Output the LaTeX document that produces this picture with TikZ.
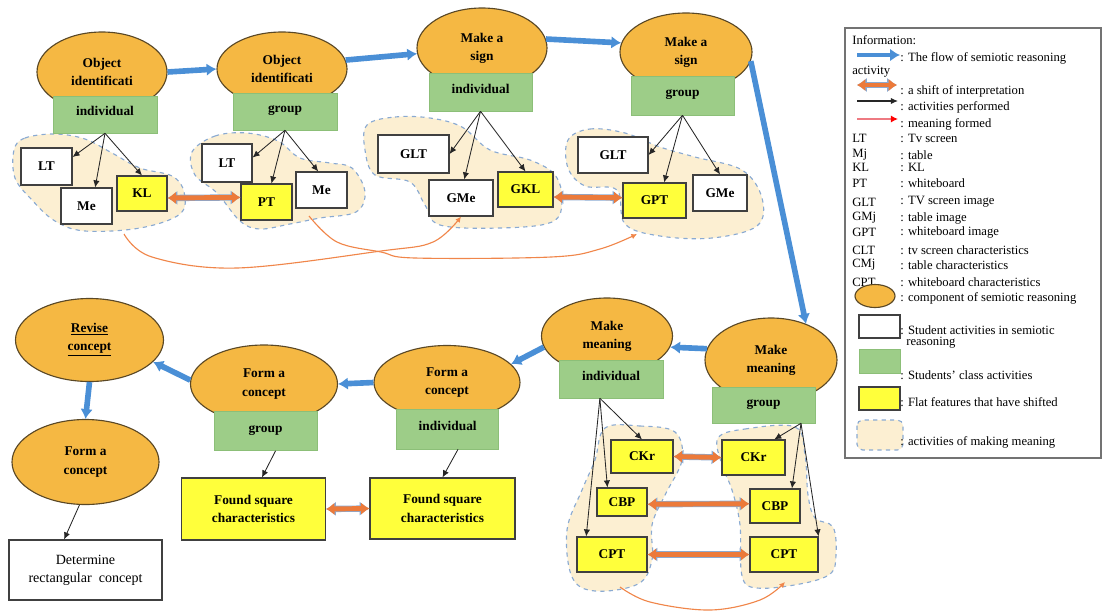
\documentclass[tikz,border=0pt]{standalone}
\usepackage{fontspec}
\setmainfont{Liberation Serif}
\usepackage{tikz}
\usetikzlibrary{arrows.meta,shapes}
\definecolor{compfill}{HTML}{F5B843}
\definecolor{compline}{HTML}{5A4826}
\definecolor{classgreen}{HTML}{9DCD88}
\definecolor{classline}{HTML}{8CBF78}
\definecolor{flatyellow}{HTML}{FFFF3B}
\definecolor{blobfill}{HTML}{FCEFD2}
\definecolor{blobline}{HTML}{8AAAD2}
\definecolor{flowblue}{HTML}{4A8FD6}
\definecolor{shiftorange}{HTML}{EC7A3A}
\definecolor{curveorange}{HTML}{F0864A}
\definecolor{legendred}{HTML}{EE7A82}
\tikzstyle{component}=[ellipse,draw=compline,fill=compfill,line width=0.8pt,inner sep=0pt,align=center,font=\fontsize{9.5}{13}\selectfont\bfseries]
\tikzstyle{classact}=[rectangle,draw=classline,fill=classgreen,inner sep=0pt,text height=7pt,text depth=5pt,font=\fontsize{9.5}{12}\selectfont\bfseries]
\tikzstyle{student}=[rectangle,draw=black!75,fill=white,line width=0.8pt,inner sep=0pt,align=center,font=\fontsize{9.5}{13}\selectfont\bfseries]
\tikzstyle{flat}=[student,fill=flatyellow]
\tikzstyle{blob}=[draw=blobline,fill=blobfill,dashed,line width=0.8pt]
\tikzstyle{flow}=[draw=flowblue,line width=4pt,-{Latex[length=7pt,width=9pt]}]
\tikzstyle{shiftarrow}=[draw=shiftorange,line width=3.5pt,{Latex[length=6pt,width=9pt]}-{Latex[length=6pt,width=9pt]},preaction={draw=blobline,line width=4.5pt,{Latex[length=7pt,width=10.5pt]}-{Latex[length=7pt,width=10.5pt]}}]
\tikzstyle{performed}=[draw=black!85,line width=0.6pt,-{Latex[length=5pt,width=4.5pt]}]
\tikzstyle{meaning}=[draw=curveorange,line width=0.8pt,-{Latex[length=4pt,width=4pt]}]
\tikzstyle{legendtext}=[anchor=west,inner sep=0pt,font=\fontsize{9}{10}\selectfont]
\begin{document}
\begin{tikzpicture}[x=0.025cm,y=-0.025cm]
\useasboundingbox (0,0) rectangle (1104,614);

% areas of making meaning
\filldraw[blob] plot[smooth cycle,tension=0.6] coordinates {(14,150) (25,138) (55,134) (85,139) (112,153) (140,168) (172,176) (184,192) (180,214) (140,228) (85,231) (55,221) (32,200) (15,178)};
\filldraw[blob] plot[smooth cycle,tension=0.6] coordinates {(192,152) (215,136) (247,133) (278,141) (300,158) (330,163) (352,168) (365,192) (356,212) (320,218) (290,224) (260,229) (240,221) (217,193) (195,175)};
\filldraw[blob] plot[smooth cycle,tension=0.6] coordinates {(367,125) (395,117) (430,118) (462,127) (490,150) (530,160) (555,175) (562,200) (552,222) (500,228) (440,225) (425,205) (410,182) (375,175) (365,150)};
\filldraw[blob] plot[smooth cycle,tension=0.6] coordinates {(568,140) (590,129) (625,133) (660,147) (695,157) (742,170) (762,198) (757,226) (712,238) (660,236) (625,224) (617,190) (585,186) (568,168)};
\filldraw[blob] plot[smooth cycle,tension=0.6] coordinates {(605,428) (640,426) (675,432) (682,460) (665,495) (652,525) (652,560) (638,584) (595,591) (572,577) (567,530) (582,490) (595,460)};
\filldraw[blob] plot[smooth cycle,tension=0.6] coordinates {(718,438) (745,429) (795,427) (805,455) (808,495) (815,518) (833,527) (836,555) (830,574) (800,584) (757,588) (742,576) (740,525) (732,490) (722,465)};

% components of semiotic reasoning
\foreach \pos/\name/\w/\h/\txt in {
  {(102,72)/oiI/130/80/{Object\\identificati}},
  {(282,69)/oiG/130/74/{Object\\identificati}},
  {(482,48)/msI/130/80/{Make a\\sign}},
  {(686,52)/msG/132/78/{Make a\\sign}},
  {(771,360)/mmG/132/84/{Make\\meaning}},
  {(607,336)/mmI/131/76/{Make\\meaning}},
  {(447,382.5)/fcI/146/74/{Form a\\concept}},
  {(264,384)/fcG/147/78/{Form a\\concept}},
  {(89.5,340)/rc/148/83/{\underline{Revise}\\\underline{concept}}},
  {(85.5,462)/fc3/147/85/{Form a\\concept}}}
    \node[component,minimum width=\w*0.025cm,minimum height=\h*0.025cm] (\name) at \pos {\txt};

\foreach \pos/\name/\w/\h/\txt in {
  {(105,114.5)/oiIg/104/37/individual},
  {(285,111.5)/oiGg/104/37/group},
  {(480.5,92)/msIg/103/38/individual},
  {(682.5,95.5)/msGg/103/39/group},
  {(763.5,405)/mmGg/103/36/group},
  {(611,379)/mmIg/104/38/individual},
  {(447.7,429)/fcIg/102/40/individual},
  {(265.5,431)/fcGg/103/39/group}}
    \node[classact,minimum width=\w*0.025cm,minimum height=\h*0.025cm] (\name) at \pos {\txt};

\foreach \pos/\name/\w/\h/\txt in {
  {(46.5,166.5)/LTa/51/37/LT}, {(86.5,206)/Mea/51/36/Me},
  {(227,163)/LTb/50/38/LT}, {(321.5,190)/Meb/51/36/Me},
  {(413.5,154)/GLTa/71/38/GLT}, {(461,198)/GMea/64/36/GMe},
  {(613,155)/GLTb/70/36/GLT}, {(720,193)/GMeb/54/36/GMe}}
    \node[student,minimum width=\w*0.025cm,minimum height=\h*0.025cm] (\name) at \pos {\txt};

\foreach \pos/\name/\w/\h/\txt in {
  {(142,193.5)/KLa/50/35/KL}, {(266.5,202)/PTb/51/36/PT},
  {(525.5,189.5)/GKLa/55/35/GKL}, {(654.5,200.5)/GPTb/63/35/GPT},
  {(642,456.5)/CKra/62/33/CKr}, {(622,502)/CBPa/50/28/CBP}, {(612,554.5)/CPTa/70/35/CPT},
  {(753.5,457.5)/CKrb/63/35/CKr}, {(775,506)/CBPb/50/34/CBP}, {(784,554.5)/CPTb/68/35/CPT},
  {(442.5,508.5)/fsI/145/61/{Found square\\characteristics}},
  {(253.5,509)/fsG/144/62/{Found square\\characteristics}}}
    \node[flat,minimum width=\w*0.025cm,minimum height=\h*0.025cm] (\name) at \pos {\txt};

\node[student,font=\fontsize{10}{13}\selectfont,minimum width=3.825cm,minimum height=1.5cm] (drc) at (85.5,570) {Determine\\rectangular\ \ concept};

% flow of semiotic reasoning
\foreach \source/\dest in {oiI.east/oiG.west, oiG.8/msI.185, msI.8/msG.172, msG.352/mmG.46, mmG.170/mmI.350, mmI.190/fcI.16, fcI.west/fcG.east, fcG.177/rc.341, rc.south/fc3.north}
    \draw[flow] (\source) -- (\dest);

% activities performed
\foreach \source/\dest in {oiIg.south/LTa.20, oiIg.south/Mea.65, oiIg.south/KLa.north,
  oiGg.south/LTb.12, oiGg.south/PTb.75, oiGg.south/Meb.100,
  msIg.south/GLTa.east, msIg.south/GMea.80, msIg.south/GKLa.north,
  msGg.south/GLTb.east, msGg.south/GPTb.62, msGg.south/GMeb.north,
  mmIg.240/CKra.north, mmIg.240/CBPa.135, mmIg.240/CPTa.145,
  mmGg.334/CKrb.41, mmGg.334/CBPb.46, mmGg.334/CPTb.north east,
  fcIg.297/fsI.north, fcGg.297/fsG.75, fc3.262/drc.125}
    \draw[performed] (\source) -- (\dest);

% shifts of interpretation
\foreach \source/\dest in {KLa.350/PTb.170, GKLa.345/GPTb.175, CKra.east/CKrb.west, CBPa.355/CBPb.175, CPTa.east/CPTb.west, fsG.east/fsI.west}
    \draw[shiftarrow] (\source) -- (\dest);

% meaning formed
\coordinate (mfa) at (124,234);
\coordinate (mfb) at (309,216);
\coordinate (mfc) at (637,234);
\coordinate (mfd) at (620,587);
\coordinate (mfe) at (785,582);
\draw[meaning] plot[smooth,tension=0.6] coordinates {(mfa) (152,257) (237,268) (381,251) (433,242) (GMea.south)};
\draw[meaning] plot[smooth,tension=0.6] coordinates {(mfb) (337,242) (381,252) (415,258) (551,257) (600,249) (mfc)};
\draw[meaning] plot[smooth,tension=0.6] coordinates {(mfd) (650,602) (710,610) (760,600) (mfe)};

% legend
\draw[draw=black!55,line width=0.8pt] (845,28) rectangle (1101,458);
\node[legendtext] (lginfo) at (852,40) {Information:};
\coordinate (lf1) at (857,55); \coordinate (lf2) at (900,55);
\draw[flow,line width=3pt] (lf1) -- (lf2);
\node[legendtext] (lgflow) at (900,58) {: The flow of semiotic reasoning};
\node[legendtext] (lgact) at (852,72) {activity};
\coordinate (ls1) at (857,85); \coordinate (ls2) at (897,85);
\draw[shiftarrow] (ls1) -- (ls2);
\node[legendtext] (lgshift) at (900,91) {: a shift of interpretation};
\coordinate (lp1) at (857,101); \coordinate (lp2) at (898,101);
\draw[performed,line width=0.9pt] (lp1) -- (lp2);
\node[legendtext] (lgperf) at (900,107) {: activities performed};
\coordinate (lm1) at (857,119); \coordinate (lm2) at (898,119);
\draw[draw=legendred,line width=0.9pt,-{Latex[length=5pt,width=5pt,color=red]}] (lm1) -- (lm2);
\node[legendtext] (lgmean) at (900,124) {: meaning formed};
\foreach \y/\key/\desc in {138/LT/Tv screen, 155/Mj/table, 167/KL/KL, 183/PT/whiteboard, 202/GLT/TV screen image, 218/GMj/table image, 232/GPT/whiteboard image, 250/CLT/tv screen characteristics, 265/CMj/table characteristics, 282/CPT/whiteboard characteristics}
{
    \node[legendtext] (lgkey\key) at (852,\y) {\key};
    \node[legendtext] (lgdesc\key) at (900,\y) {: \desc};
}
\node[component,minimum width=1cm,minimum height=0.575cm] (lgcomp) at (875,296) {};
\node[legendtext] (lgcompt) at (900,298) {: component of semiotic reasoning};
\node[student,minimum width=1.025cm,minimum height=0.575cm] (lgstud) at (879.5,326.5) {};
\node[legendtext] (lgstudt) at (900,330) {: Student activities in semiotic};
\node[legendtext] (lgstudr) at (906,343) {reasoning};
\node[classact,minimum width=1.025cm,minimum height=0.6cm] (lgclass) at (879.5,361) {};
\node[legendtext] (lgclasst) at (900,375) {: Students' class activities};
\node[flat,minimum width=1.025cm,minimum height=0.575cm] (lgflat) at (879.5,398.5) {};
\node[legendtext] (lgflatt) at (900,402) {: Flat features that have shifted};
\filldraw[blob,rounded corners=4pt] (857,420) rectangle (903,450);
\node[legendtext] (lgblobt) at (900,442) {: activities of making meaning};

\end{tikzpicture}
\end{document}
